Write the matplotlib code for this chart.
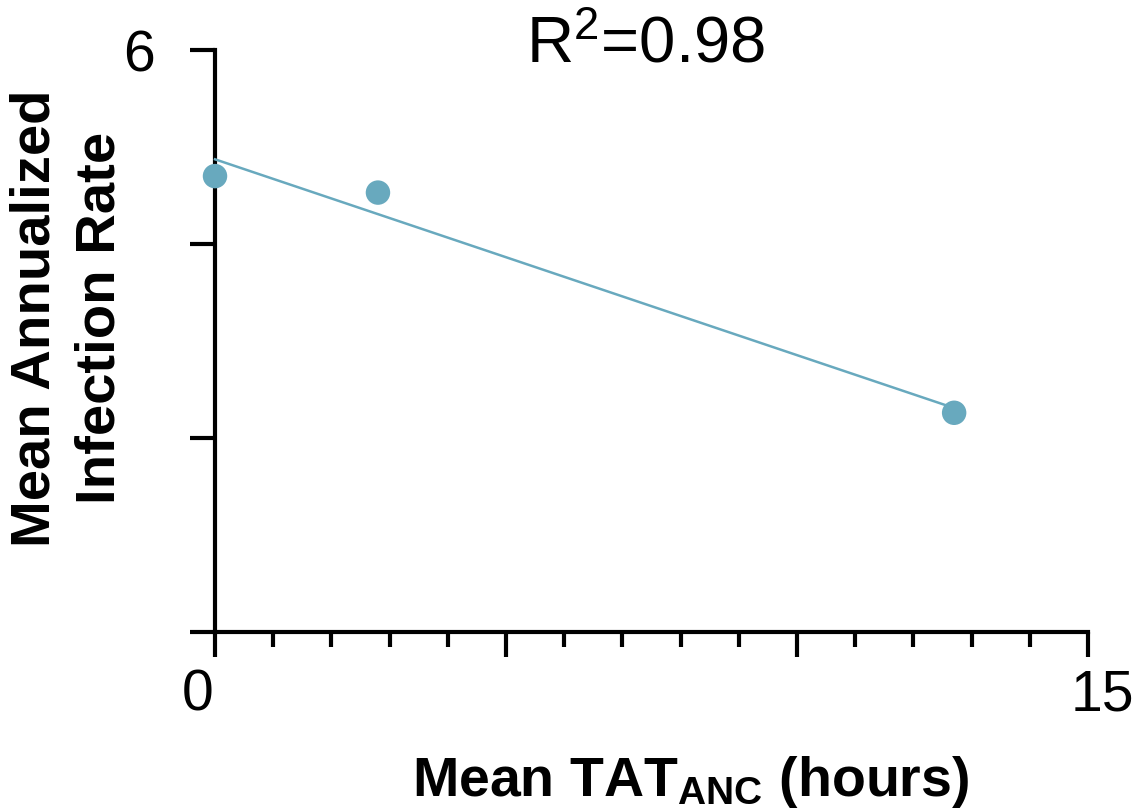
import numpy as np
import matplotlib
matplotlib.use("Agg")
import matplotlib.pyplot as plt
from matplotlib.ticker import MultipleLocator
from matplotlib.transforms import ScaledTranslation

plt.rcParams['font.family'] = ['Liberation Sans', 'DejaVu Sans']
plt.rcParams['mathtext.fontset'] = 'custom'
plt.rcParams['mathtext.rm'] = 'Liberation Sans'
plt.rcParams['mathtext.bf'] = 'Liberation Sans:bold'
plt.rcParams['mathtext.it'] = 'Liberation Sans:italic'

# Data
tat_hours = [0.0, 2.8, 12.7]
infection_rate = [4.70, 4.53, 2.26]
x_ticks_major = [0, 5, 10, 15]
x_tick_labels = ['0', '', '', '15']
y_ticks_major = [0, 2, 4, 6]
y_tick_labels = ['', '', '', '6']

color = '#68a9be'

fig = plt.figure(figsize=(11.35, 8.09), dpi=100)
ax = fig.add_axes([215/1135, 1-632/809, (1088-215)/1135, (632-50)/809])

x = np.array(tat_hours)
y = np.array(infection_rate)
slope, intercept = np.polyfit(x, y, 1)
pred = slope * x + intercept
r2 = 1 - np.sum((y - pred)**2) / np.sum((y - y.mean())**2)

xl = np.array([x.min(), x.max()])
ax.plot(xl, slope * xl + intercept, color=color, lw=1.8, zorder=3, clip_on=False)
ax.scatter(x, y, s=310, color=color, edgecolors='none', zorder=4, clip_on=False)

ax.set_xlim(0, 15)
ax.set_ylim(0, 6)
ax.spines['top'].set_visible(False)
ax.spines['right'].set_visible(False)
for s in ['left', 'bottom']:
    ax.spines[s].set_linewidth(3.0)
    ax.spines[s].set_capstyle('projecting')
ax.set_xticks(x_ticks_major)
ax.set_xticklabels(x_tick_labels)
ax.xaxis.set_minor_locator(MultipleLocator(1))
ax.set_yticks(y_ticks_major)
ax.set_yticklabels(y_tick_labels)
ax.tick_params(axis='both', which='major', length=18, width=3.0, labelsize=41)
ax.tick_params(axis='x', which='major', pad=8)
ax.tick_params(axis='y', which='major', pad=25)
ax.tick_params(axis='x', which='minor', length=11, width=3.0)

offsets = [-17, 0, 0, 14]
for lab, dx in zip(ax.get_xticklabels(), offsets):
    lab.set_transform(lab.get_transform() + ScaledTranslation(dx / 100, 0, fig.dpi_scale_trans))

fig.text(0.569, 0.923, r'R$^{\mathrm{2}}$=%.2f' % r2, fontsize=47, ha='center', va='baseline')
fig.text(0.06, 0.607, 'Mean Annualized\nInfection Rate', rotation=90, fontsize=40.5,
         fontweight='bold', ha='center', va='center', multialignment='center', linespacing=1.33)
fig.text(0.608, 0.016, r'Mean TAT$_{\mathbf{ANC}}$ (hours)', fontsize=40,
         fontweight='bold', ha='center', va='baseline')

fig.savefig('out.png', dpi=100)
